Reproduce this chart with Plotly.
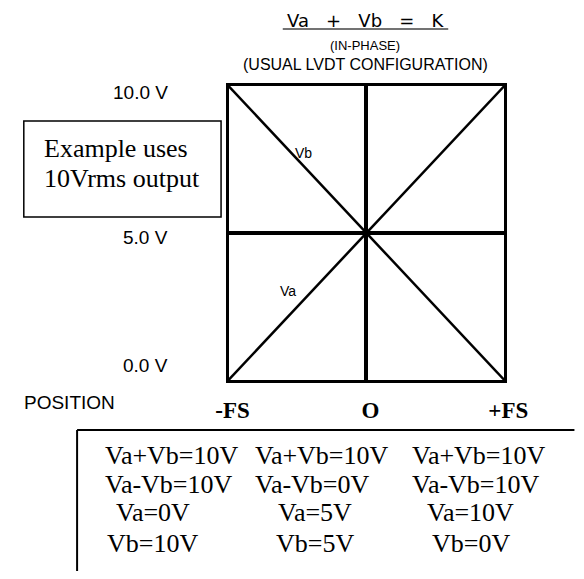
import plotly.graph_objects as go

# ---- data ----
positions = [-1, 0, 1]                 # -FS, O, +FS (full-scale units)
position_labels = ["-FS", "O", "+FS"]
va_values = [0, 5, 10]                 # Va (V) vs position
vb_values = [10, 5, 0]                 # Vb (V) vs position
volt_ticks = [10, 5, 0]
volt_labels = ["10.0 V", "5.0 V", "0.0 V"]
col_sum = ["Va+Vb=10V", "Va+Vb=10V", "Va+Vb=10V"]
col_diff = ["Va-Vb=10V", "Va-Vb=0V", "Va-Vb=10V"]
col_va = ["Va=0V", "Va=5V", "Va=10V"]
col_vb = ["Vb=10V", "Vb=5V", "Vb=0V"]

# page body has an 8px margin on every side; size the figure so the page does not overflow
OFF = 8
W, H = 584 - 2 * OFF, 579 - 2 * OFF
def px(x):
    return (x - OFF) / W
def py(y):
    return 1 - (y - OFF) / H

SANS = "Liberation Sans, Arial, sans-serif"
SERIF = "Liberation Serif, Times New Roman, serif"
GEO = "DejaVu Sans, sans-serif"

fig = go.Figure()
fig.add_trace(go.Scatter(x=positions, y=va_values, mode="lines",
                         line=dict(color="black", width=2.5), hoverinfo="skip"))
fig.add_trace(go.Scatter(x=positions, y=vb_values, mode="lines",
                         line=dict(color="black", width=2.5), hoverinfo="skip"))

fig.update_layout(
    width=W, height=H, autosize=False,
    margin=dict(l=0, r=0, t=0, b=0),
    paper_bgcolor="white", plot_bgcolor="white",
    showlegend=False,
    xaxis=dict(domain=[px(230), px(525)], range=[-1, 1],
               tickmode="array", tickvals=positions,
               ticktext=["<b>%s</b>" % t for t in position_labels],
               tickfont=dict(family=SERIF, size=23, color="black"),
               ticklabelstandoff=7, ticklabelshift=4,
               showgrid=True, gridcolor="black", gridwidth=3.5,
               zeroline=False, showline=True, mirror=True,
               linecolor="black", linewidth=3, ticks="", fixedrange=True),
    yaxis=dict(domain=[py(380), py(86)], range=[0, 10],
               tickmode="array", tickvals=volt_ticks, showticklabels=False,
               showgrid=True, gridcolor="black", gridwidth=3.5,
               zeroline=False, showline=True, mirror=True,
               linecolor="black", linewidth=3, ticks="", fixedrange=True),
)

ann = []
# title block
ann.append(dict(text="Va\u00a0\u00a0\u00a0+\u00a0\u00a0\u00a0Vb\u00a0\u00a0\u00a0=\u00a0\u00a0\u00a0K",
                x=px(377), y=py(20), xref="paper", yref="paper",
                xanchor="center", yanchor="middle", showarrow=False,
                font=dict(family=GEO, size=18, color="black")))
ann.append(dict(text="(IN-PHASE)", x=px(376), y=py(46), xref="paper", yref="paper",
                xanchor="center", yanchor="middle", showarrow=False,
                font=dict(family=SANS, size=13, color="black")))
ann.append(dict(text="(USUAL LVDT CONFIGURATION)", x=px(377), y=py(64),
                xref="paper", yref="paper", xanchor="center", yanchor="middle",
                showarrow=False, font=dict(family=SANS, size=16, color="black")))

# voltage labels
volt_shift = [-6, -4, 15]
for v, lab, s in zip(volt_ticks, volt_labels, volt_shift):
    ann.append(dict(text=lab, x=px(167), y=v, xref="paper", yref="y",
                    xanchor="right", yanchor="middle", yshift=s, showarrow=False,
                    font=dict(family=SANS, size=19, color="black")))

ann.append(dict(text="POSITION", x=px(9), y=py(402), xref="paper", yref="paper",
                xanchor="left", yanchor="middle", showarrow=False,
                font=dict(family=SANS, size=19, color="black")))

# line labels
ann.append(dict(text="Vb", x=-0.458, y=7.72, xref="x", yref="y",
                xanchor="center", yanchor="middle", showarrow=False,
                font=dict(family=SANS, size=14, color="black")))
ann.append(dict(text="Va", x=-0.566, y=3.03, xref="x", yref="y",
                xanchor="center", yanchor="middle", showarrow=False,
                font=dict(family=SANS, size=14, color="black")))

# example box
ann.append(dict(text="Example uses", x=px(30), y=py(148), xref="paper", yref="paper",
                xanchor="left", yanchor="middle", showarrow=False,
                font=dict(family=SERIF, size=26, color="black")))
ann.append(dict(text="10Vrms output", x=px(30), y=py(179), xref="paper", yref="paper",
                xanchor="left", yanchor="middle", showarrow=False,
                font=dict(family=SERIF, size=26, color="black")))

# table
row_y = [455, 484, 513, 543]
left_x = [96, 256, 424]
center_x = [149, 322, 489]
for i in range(3):
    for r, col in enumerate([col_sum, col_diff]):
        ann.append(dict(text=col[i], x=px(left_x[i]), y=py(row_y[r]),
                        xref="paper", yref="paper", xanchor="left", yanchor="middle",
                        showarrow=False, font=dict(family=SERIF, size=26, color="black")))
    for r, col in enumerate([col_va, col_vb]):
        ann.append(dict(text=col[i], x=px(center_x[i]), y=py(row_y[r + 2]),
                        xref="paper", yref="paper", xanchor="center", yanchor="middle",
                        showarrow=False, font=dict(family=SERIF, size=26, color="black")))

fig.update_layout(annotations=ann)

shapes = [
    dict(type="line", xref="paper", yref="paper", x0=px(288), x1=px(465),
         y0=py(29), y1=py(29), line=dict(color="#444444", width=1.5)),
    dict(type="rect", xref="paper", yref="paper", x0=px(11), x1=px(222),
         y0=py(121), y1=py(217), line=dict(color="black", width=1.5)),
    dict(type="line", xref="paper", yref="paper", x0=px(68), x1=px(600),
         y0=py(430), y1=py(430), line=dict(color="black", width=2)),
    dict(type="line", xref="paper", yref="paper", x0=px(68), x1=px(68),
         y0=py(430), y1=py(600), line=dict(color="black", width=2)),
]
fig.update_layout(shapes=shapes)

fig.write_html("out.html", config={"displayModeBar": False})
